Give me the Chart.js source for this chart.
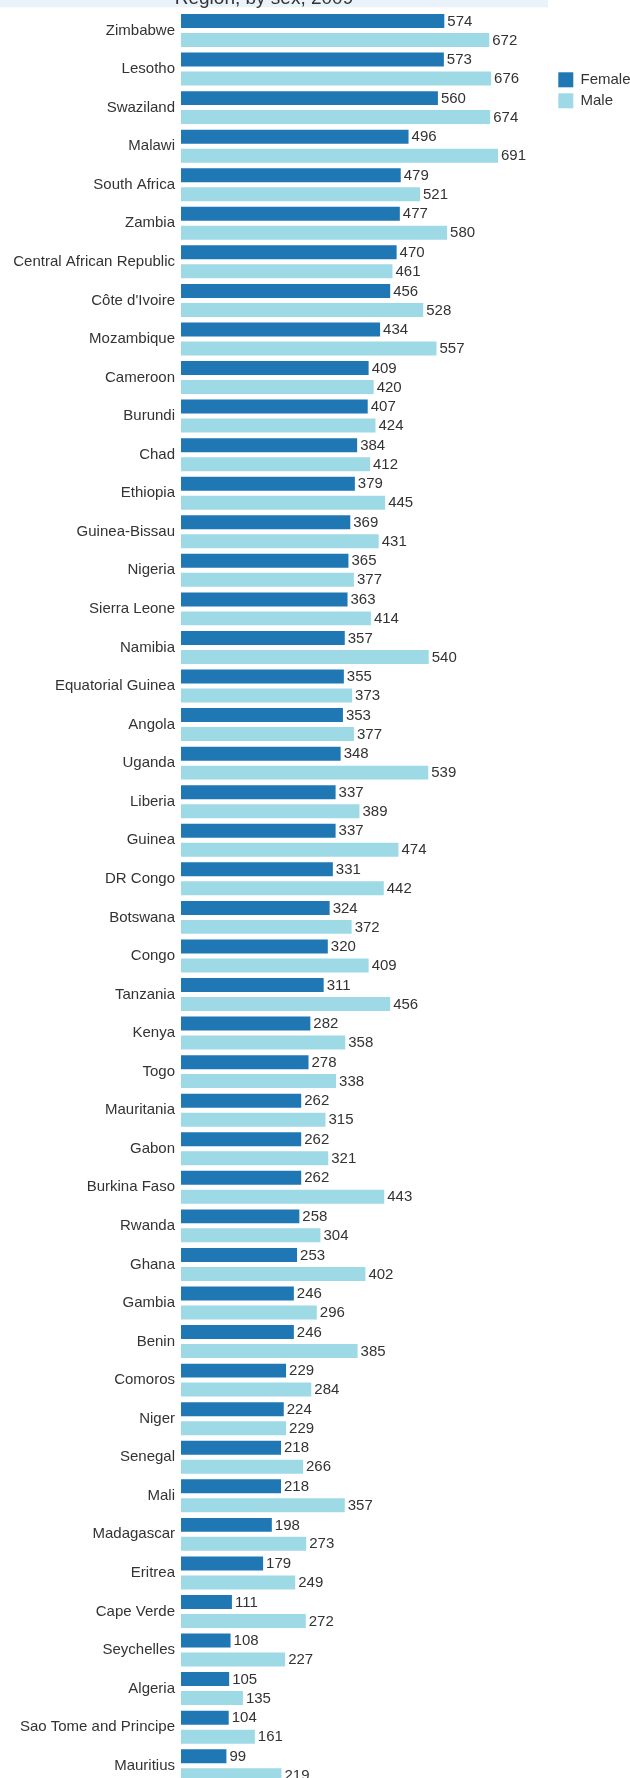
<!DOCTYPE html>
<html lang="en">
<head>
<meta charset="utf-8">
<script src="https://cdn.jsdelivr.net/npm/chart.js@4.4.1/dist/chart.umd.min.js"></script>
<style>
  html, body { margin: 0; padding: 0; background: #fff; overflow: hidden; }
  #wrap { position: absolute; left: 0; top: -40px; width: 630px; height: 1840px; }
</style>
</head>
<body>
<div id="wrap"><canvas id="chart"></canvas></div>
<script>
  const titleText = 'Region, by sex, 2009';
  const seriesNames = ['Female', 'Male'];
  const countries = [
    'Zimbabwe', 'Lesotho', 'Swaziland', 'Malawi', 'South Africa', 'Zambia',
    'Central African Republic', "Côte d'Ivoire", 'Mozambique', 'Cameroon', 'Burundi',
    'Chad', 'Ethiopia', 'Guinea-Bissau', 'Nigeria', 'Sierra Leone', 'Namibia',
    'Equatorial Guinea', 'Angola', 'Uganda', 'Liberia', 'Guinea', 'DR Congo',
    'Botswana', 'Congo', 'Tanzania', 'Kenya', 'Togo', 'Mauritania', 'Gabon',
    'Burkina Faso', 'Rwanda', 'Ghana', 'Gambia', 'Benin', 'Comoros', 'Niger',
    'Senegal', 'Mali', 'Madagascar', 'Eritrea', 'Cape Verde', 'Seychelles',
    'Algeria', 'Sao Tome and Principe', 'Mauritius'
  ];
  const female = [
    574, 573, 560, 496, 479, 477, 470, 456, 434, 409, 407, 384, 379, 369, 365, 363,
    357, 355, 353, 348, 337, 337, 331, 324, 320, 311, 282, 278, 262, 262, 262, 258,
    253, 246, 246, 229, 224, 218, 218, 198, 179, 111, 108, 105, 104, 99
  ];
  const male = [
    672, 676, 674, 691, 521, 580, 461, 528, 557, 420, 424, 412, 445, 431, 377, 414,
    540, 373, 377, 539, 389, 474, 442, 372, 409, 456, 358, 338, 315, 321, 443, 304,
    402, 296, 385, 284, 229, 266, 357, 273, 249, 272, 227, 135, 161, 219
  ];
  const colors = ['#1f77b4', '#9edae5'];

  const FONT = '"Liberation Sans", Arial, sans-serif';
  const TOP = 40; // canvas is shifted up by this much

  // light blue title strip, mostly scrolled off the top
  const titleBand = {
    id: 'titleBand',
    beforeDraw(chart) {
      const ctx = chart.ctx;
      ctx.save();
      ctx.fillStyle = '#eaf2fa';
      ctx.fillRect(0, 0, chart.chartArea.right, TOP + 7.3);
      ctx.fillStyle = '#333';
      ctx.font = '19px ' + FONT;
      ctx.textAlign = 'center';
      ctx.textBaseline = 'alphabetic';
      ctx.fillText(titleText, 264, TOP + 3.5);
      ctx.restore();
    }
  };

  const valueLabels = {
    id: 'valueLabels',
    afterDatasetsDraw(chart) {
      const ctx = chart.ctx;
      ctx.save();
      ctx.font = '15px ' + FONT;
      ctx.fillStyle = '#333';
      ctx.textBaseline = 'middle';
      chart.data.datasets.forEach((ds, i) => {
        chart.getDatasetMeta(i).data.forEach((bar, j) => {
          ctx.fillText(ds.data[j], bar.x + 3, bar.y + 0.5);
        });
      });
      ctx.restore();
    }
  };

  const sideLegend = {
    id: 'sideLegend',
    afterDraw(chart) {
      const ctx = chart.ctx;
      ctx.save();
      ctx.font = '15px ' + FONT;
      ctx.textBaseline = 'middle';
      chart.data.datasets.forEach((ds, i) => {
        const y = TOP + 72.3 + i * 21;
        ctx.fillStyle = ds.backgroundColor;
        ctx.fillRect(558.3, y, 15, 15);
        ctx.fillStyle = '#333';
        ctx.fillText(ds.label, 580.5, y + 8);
      });
      ctx.restore();
    }
  };

  new Chart(document.getElementById('chart'), {
    type: 'bar',
    data: {
      labels: countries,
      datasets: [
        { label: seriesNames[0], data: female, backgroundColor: colors[0],
          categoryPercentage: 0.984, barPercentage: 0.737 },
        { label: seriesNames[1], data: male, backgroundColor: colors[1],
          categoryPercentage: 0.984, barPercentage: 0.737 }
      ]
    },
    options: {
      indexAxis: 'y',
      responsive: true,
      maintainAspectRatio: false,
      animation: false,
      layout: { padding: { top: TOP + 11.2, bottom: 12.2, left: 0, right: 82 } },
      plugins: {
        legend: { display: false },
        title: { display: false },
        tooltip: { enabled: false }
      },
      scales: {
        x: { display: false, min: 0, max: 800 },
        y: {
          grid: { display: false, drawTicks: false },
          border: { display: false },
          ticks: { padding: 6, color: '#333', font: { size: 15, family: FONT } },
          afterFit: (s) => { s.width = 181; }
        }
      }
    },
    plugins: [titleBand, valueLabels, sideLegend]
  });
</script>
</body>
</html>
